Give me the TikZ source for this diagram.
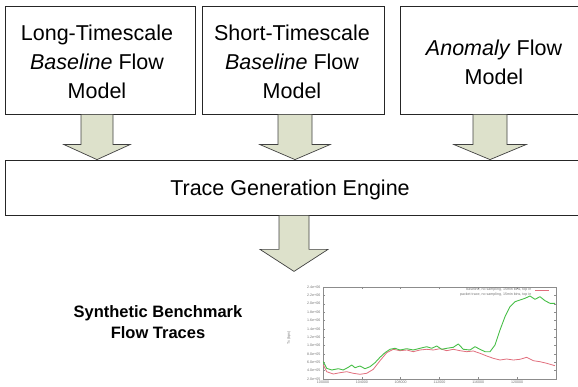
\documentclass[tikz,border=0pt]{standalone}
\usepackage{fontspec}
\setmainfont{Liberation Sans}
\usetikzlibrary{calc}
\definecolor{arrfill}{RGB}{221,225,203}
\definecolor{plotred}{RGB}{225,110,125}
\definecolor{plotgreen}{RGB}{70,190,70}
\newcommand\blockarr[5]{%
  \filldraw[arr] let \p1=(#1), \p2=(#2) in
    (\x1-#3,\y1) -- (\x1+#3,\y1) -- (\x1+#3,\y2+#5) -- (\x1+#4,\y2+#5)
    -- (\x1,\y2) -- (\x1-#4,\y2+#5) -- (\x1-#3,\y2+#5) -- cycle;}
\begin{document}
\begin{tikzpicture}[x=1pt,y=-1pt,
  box/.style={draw=black!85, line width=0.8pt, fill=white, inner sep=0pt},
  boxtext/.style={font=\fontsize{21.5}{29}\selectfont, align=center, inner sep=0pt},
  arr/.style={fill=arrfill, draw=black!75, line width=0.7pt, line join=miter},
  tick/.style={font=\fontsize{3.6}{4}\selectfont, text=black!55, inner sep=0.5pt},
  captext/.style={font=\bfseries\fontsize{16.5}{21}\selectfont, align=center, inner sep=0pt},
  frame/.style={draw=black!45, line width=0.5pt},
]
\useasboundingbox (0,0) rectangle (578,387);
\clip (0,0) rectangle (578,387);

% model boxes
\node[box, minimum width=190pt, minimum height=108pt] (m1) at (100.5,60) {};
\node[box, minimum width=182pt, minimum height=108pt] (m2) at (293,60) {};
\node[box, minimum width=190pt, minimum height=108pt] (m3) at (495,60) {};
\node[boxtext] (t1) at (97,62) {Long-Timescale\\\textit{Baseline} Flow\\Model};
\node[boxtext] (t2) at (292,62) {Short-Timescale\\\textit{Baseline} Flow\\Model};
\node[boxtext] (t3) at (494,62) {\textit{Anomaly} Flow\\Model};

% engine box
\node[box, minimum width=584.5pt, minimum height=55pt] (eng) at (297.75,187.5) {};
\node[boxtext] (engt) at (290,190) {Trace Generation Engine};

% block arrows
\coordinate (a1s) at ($(m1.south)+(-3.5,0)$);
\coordinate (a1e) at (a1s |- eng.north);
\coordinate (a2s) at ($(m2.south)+(2,0)$);
\coordinate (a2e) at (a2s |- eng.north);
\coordinate (a3s) at ($(m3.south)+(-5,0)$);
\coordinate (a3e) at (a3s |- eng.north);
\coordinate (a4s) at ($(eng.south)+(-3.75,0)$);
\coordinate (a4e) at ($(a4s)+(0,56)$);
\blockarr{a1s}{a1e}{16pt}{33pt}{15pt}
\blockarr{a2s}{a2e}{17pt}{35pt}{15pt}
\blockarr{a3s}{a3e}{17pt}{36pt}{15pt}
\blockarr{a4s}{a4e}{15pt}{34pt}{22pt}

% caption
\node[captext] (cap) at (158,322) {Synthetic Benchmark\\Flow Traces};

% plot
\node[frame, minimum width=233pt, minimum height=92pt, inner sep=0pt] (pf) at (439.5,333) {};
\foreach \v [count=\i from 0] in {2.4e+06,2.2e+06,2.0e+06,1.8e+06,1.6e+06,1.4e+06,1.2e+06,1.0e+06,8.0e+05,6.0e+05,4.0e+05,2.0e+05}{
  \draw[black!45, line width=0.4pt] (323,287+\i*92/11) -- ++(2,0) (556,287+\i*92/11) -- ++(-2,0);
  \node[tick, anchor=east] (yl\i) at (321,287+\i*92/11) {\v};
}
\foreach \v [count=\i from 0] in {100000,104000,108000,112000,116000,120000}{
  \draw[black!45, line width=0.4pt] (323+\i*38.8,379) -- ++(0,-2) (323+\i*38.8,287) -- ++(0,2);
  \node[tick, anchor=north] (xl\i) at (323+\i*38.8,380.5) {\v};
}
\node[tick, rotate=90] (ylab) at (289,338) {Tx (bps)};
\node[tick, anchor=east] (lg1) at (532,290) {baseline, no sampling, 15min bins, top in};
\node[tick, anchor=east] (lg2) at (532,295) {packet trace, no sampling, 15min bins, top in};
\draw[plotred, line width=0.6pt] (535,290) -- (549,290);

\draw[plotred, line width=0.8pt, line join=round] plot coordinates {
(323.3,365) (326.7,371.7) (333.3,374) (340,372.7) (346.7,371.7) (353.3,373.3)
(360,374.3) (366.7,373.3) (373.3,369.3) (380,360.7) (386.7,352.7) (393.3,349.3)
(400,350.7) (406.7,350) (413.3,351.7) (420,350) (426.7,349.3) (433.3,350)
(440,348.7) (446.7,350.7) (453.3,349.3) (460,350.7) (466.7,351.7) (473.3,351)
(480,353.3) (486.7,356) (493.3,358.3) (500,360) (506.7,359) (513.3,360)
(520,359.3) (526.7,357.3) (533.3,360.7) (540,361.7) (546.7,363.3) (555,365.7)};
\draw[plotgreen, line width=0.9pt, line join=round] plot coordinates {
(323.3,361.7) (326.7,368.3) (331.7,370) (338.3,368.7) (343.3,370) (348.3,367.3)
(351.7,365) (355,367.7) (360,366) (365,368.7) (370,366.7) (375,362.7)
(380,357.3) (385,352.7) (390,349.3) (395,348.3) (400,350) (406.7,348.7)
(413.3,350) (420,348.3) (426.7,346.7) (431.7,348.3) (436.7,346) (441.7,349.3)
(446.7,348.3) (453.3,347.3) (458.3,344) (463.3,349.3) (470,350) (475,346.7)
(480,349.3) (485,351.7) (490,351.7) (495,345) (500,330) (505,316.7)
(510,306.7) (515,301.7) (520,300) (525,298.3) (530,296) (535,299.3)
(540,296.7) (545,300.7) (550,303.3) (555,303.3)};
\end{tikzpicture}
\end{document}
